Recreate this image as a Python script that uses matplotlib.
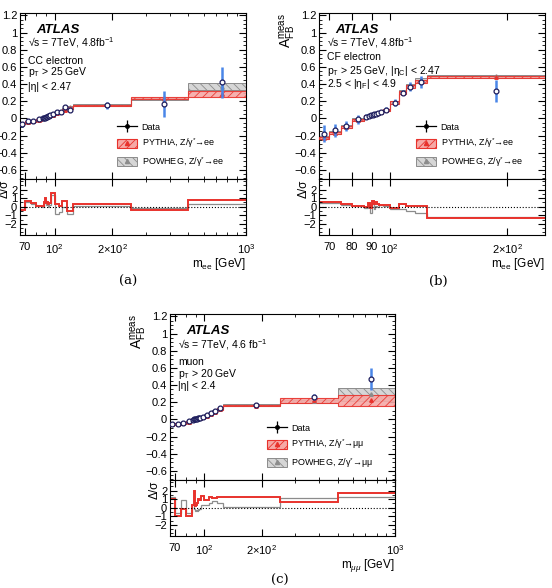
import numpy as np
import matplotlib
matplotlib.use('Agg')
import matplotlib.pyplot as plt
from matplotlib.patches import Patch
from matplotlib.lines import Line2D
from matplotlib.ticker import MultipleLocator, AutoMinorLocator, NullFormatter

plt.rcParams['font.family'] = ['Liberation Sans', 'DejaVu Sans']
plt.rcParams['mathtext.fontset'] = 'custom'
plt.rcParams['mathtext.rm'] = 'Liberation Sans'
plt.rcParams['mathtext.it'] = 'Liberation Sans:italic'
plt.rcParams['hatch.linewidth'] = 0.6

# mass bin edges [GeV]
edges_ll = np.array([66, 70, 75, 80, 86, 88, 89, 90, 91, 92, 93, 94, 96, 100, 106, 110, 116, 125, 250, 500, 1000])
edges_cf = edges_ll[:19]

# (a) CC electrons
cc_data = np.array([-0.07, -0.03, -0.03, -0.01, 0.00, 0.01, 0.01, 0.02, 0.02, 0.03, 0.03, 0.04, 0.05, 0.07, 0.08, 0.13, 0.10, 0.15, 0.17, 0.42])
cc_err = np.array([0.03, 0.02, 0.02, 0.015, 0.01, 0.01, 0.01, 0.01, 0.01, 0.01, 0.01, 0.01, 0.015, 0.02, 0.02, 0.02, 0.03, 0.04, 0.15, 0.18])
cc_py = np.array([-0.06, -0.04, -0.03, -0.015, 0.00, 0.005, 0.01, 0.015, 0.02, 0.025, 0.03, 0.035, 0.04, 0.065, 0.075, 0.10, 0.12, 0.15, 0.24, 0.28])
cc_py_err = np.array([0.01] * 17 + [0.01, 0.012, 0.035])
cc_pw = np.array([-0.06, -0.04, -0.03, -0.015, 0.00, 0.005, 0.01, 0.015, 0.02, 0.025, 0.03, 0.035, 0.04, 0.07, 0.08, 0.11, 0.13, 0.155, 0.225, 0.37])
cc_pw_err = np.array([0.01] * 17 + [0.01, 0.015, 0.04])
cc_r_py = np.array([-0.4, 0.7, 0.4, 0.1, 0.1, 0.6, 1.0, 0.4, 0.5, 0.3, 0.3, 0.4, 1.6, 0.3, 0.1, 0.7, -0.5, 0.3, -0.35, 0.8])
cc_r_pw = np.array([-0.3, 0.5, 0.3, 0.1, 0.0, 0.4, 0.8, 0.2, 0.3, 0.1, 0.0, 0.2, 1.4, -0.8, -0.6, 0.0, -0.9, 0.1, -0.2, 0.3])

# (b) CF electrons
cf_data = np.array([-0.18, -0.14, -0.09, -0.01, 0.02, 0.03, 0.04, 0.04, 0.05, 0.05, 0.06, 0.07, 0.10, 0.18, 0.30, 0.37, 0.42, 0.32])
cf_err = np.array([0.10, 0.08, 0.06, 0.05, 0.03, 0.02, 0.02, 0.02, 0.02, 0.02, 0.02, 0.02, 0.03, 0.04, 0.03, 0.05, 0.07, 0.13])
cf_py = np.array([-0.23, -0.17, -0.10, -0.02, 0.02, 0.03, 0.04, 0.045, 0.05, 0.055, 0.06, 0.075, 0.10, 0.185, 0.30, 0.37, 0.43, 0.48])
cf_py_err = np.array([0.015] * 18)
cf_pw = np.array([-0.22, -0.165, -0.095, -0.015, 0.02, 0.03, 0.04, 0.045, 0.05, 0.055, 0.06, 0.075, 0.10, 0.19, 0.31, 0.385, 0.45, 0.49])
cf_pw_err = np.array([0.015] * 17 + [0.02])
cf_r_py = np.array([0.5, 0.5, 0.3, 0.1, 0.0, 0.4, -0.2, 0.7, 0.3, 0.5, 0.3, 0.25, 0.25, -0.2, 0.35, 0.1, 0.1, -1.3])
cf_r_pw = np.array([0.45, 0.4, 0.25, 0.05, -0.1, 0.3, -0.7, 0.4, -0.3, 0.1, 0.0, 0.2, 0.1, -0.3, -0.3, -0.5, -0.7, -1.2])

# (c) muons
mu_data = np.array([-0.05, -0.05, -0.04, -0.02, -0.01, 0.00, 0.01, 0.01, 0.01, 0.02, 0.02, 0.02, 0.03, 0.05, 0.07, 0.10, 0.13, 0.17, 0.26, 0.47])
mu_err = np.array([0.01] * 17 + [0.01, 0.035, 0.13])
mu_py = np.array([-0.055, -0.05, -0.04, -0.025, -0.01, 0.0, 0.005, 0.01, 0.01, 0.015, 0.02, 0.02, 0.03, 0.045, 0.065, 0.09, 0.12, 0.16, 0.22, 0.22])
mu_py_err = np.array([0.01] * 18 + [0.025, 0.06])
mu_pw = np.array([-0.055, -0.05, -0.04, -0.025, -0.01, 0.0, 0.005, 0.01, 0.01, 0.015, 0.02, 0.02, 0.03, 0.05, 0.07, 0.10, 0.125, 0.165, 0.21, 0.29])
mu_pw_err = np.array([0.01] * 18 + [0.02, 0.075])
mu_r_py = np.array([1.0, -1.0, -0.2, -1.0, 0.3, 1.9, 0.2, 0.3, 0.5, 0.9, 1.0, 0.9, 1.4, 0.9, 1.3, 1.1, 1.2, 1.25, 0.65, 1.75])
mu_r_pw = np.array([1.3, -0.6, 0.9, -0.6, 0.4, -0.2, -0.4, -0.3, -0.4, -0.2, -0.3, -0.2, 0.3, 0.3, 0.6, 0.8, 0.5, 0.1, 1.1, 1.2])

RED = '#e8322c'
RED_FILL = '#f6a9a6'
GREY = '#8c8c8c'
GREY_FILL = '#d6d6d6'


def panel(rect, rh, edges, data, err, py, pye, pw, pwe, rpy, rpw, xlim, xt, xtl,
          texts, lep, xlabel):
    l, b, w, h = rect
    ax = fig.add_axes([l, b, w, h])
    rax = fig.add_axes([l, b - rh, w, rh], sharex=ax)
    cen = 0.5 * (edges[1:] + edges[:-1])

    ax.stairs(pw + pwe, edges, baseline=pw - pwe, fill=True, facecolor=GREY_FILL,
              edgecolor=GREY, hatch='\\\\\\\\', lw=0.7, zorder=2)
    ax.stairs(py + pye, edges, baseline=py - pye, fill=True, facecolor=RED_FILL,
              edgecolor=RED, hatch='////', lw=0.8, alpha=0.9, zorder=3)
    ax.plot(cen, pw, '^', color=GREY, ms=2.5, zorder=3)
    ax.plot(cen, py, '^', color=RED, ms=2.5, zorder=4)
    ax.errorbar(cen, data, yerr=err, fmt='o', ms=3.5, mfc='white', mec='#1c1c5c',
                mew=0.9, ecolor='#4a86e8', elinewidth=1.8, capsize=0, zorder=5)

    ax.set_xscale('log')
    ax.set_xlim(*xlim)
    ax.set_ylim(-0.71, 1.23)
    ax.yaxis.set_minor_locator(AutoMinorLocator(4))
    ax.set_yticks(np.arange(-0.6, 1.21, 0.2))
    ax.set_yticklabels(['−0.6', '−0.4', '−0.2', '0', '0.2', '0.4', '0.6', '0.8', '1', '1.2'])
    ax.set_ylabel(r'A$_{\mathrm{FB}}^{\mathrm{meas}}$', loc='top', fontsize=10)
    ax.yaxis.set_label_coords(-0.095, 1.0)
    plt.setp(ax.get_xticklabels(which='both'), visible=False)

    ax.text(0.07, 0.895, 'ATLAS', transform=ax.transAxes, fontsize=9.5,
            fontweight='bold', fontstyle='italic', va='center')
    for (ty, s) in texts:
        ax.text(0.035, ty, s, transform=ax.transAxes, fontsize=7.5, va='center')

    hd = (Line2D([], [], color='k', marker='o', ms=2.5, lw=0.9),
          Line2D([], [], color='k', marker='|', ms=8, ls='none', mew=0.9))
    hp = (Patch(facecolor=RED_FILL, edgecolor=RED, hatch='////', lw=0.8),
          Line2D([], [], color=RED, marker='^', ms=3, ls='none'))
    hw = (Patch(facecolor=GREY_FILL, edgecolor=GREY, hatch='\\\\\\\\', lw=0.7),
          Line2D([], [], color=GREY, marker='^', ms=3, ls='none'))
    ax.legend([hd, hp, hw], ['Data', lep[0], lep[1]], loc='upper left',
              bbox_to_anchor=(0.43, 0.34), frameon=False, fontsize=6.5,
              borderpad=0, borderaxespad=0, handlelength=2.2, handleheight=1.15,
              labelspacing=0.5, handletextpad=0.5)

    rax.stairs(rpw, edges, baseline=None, color=GREY, lw=0.9)
    rax.stairs(rpy, edges, baseline=None, color=RED, lw=1.4)
    rax.axhline(0, color='k', ls=':', lw=0.8)
    rax.set_ylim(-3.3, 3.2)
    rax.set_yticks([-2, -1, 0, 1, 2])
    rax.set_yticklabels(['−2', '−1', '0', '1', '2'])
    rax.yaxis.set_minor_locator(MultipleLocator(0.5))
    rax.set_ylabel('Δ/σ', loc='top', fontsize=8.5)
    rax.yaxis.set_label_coords(-0.04, 1.0)
    rax.set_xticks(xt)
    rax.set_xticklabels(xtl)
    rax.xaxis.set_minor_formatter(NullFormatter())
    rax.set_xlabel(xlabel, loc='right', fontsize=8.5, labelpad=0)

    for a in (ax, rax):
        a.tick_params(which='both', direction='in', top=True, right=True, labelsize=8, pad=2)
        a.tick_params(which='major', length=5)
        a.tick_params(which='minor', length=2.5)
        for sp in a.spines.values():
            sp.set_linewidth(0.8)
    rax.tick_params(axis='x', which='major', pad=5)
    return ax, rax


fig = plt.figure(figsize=(5.52, 5.88), dpi=100)

RH = 0.0947
MH = 0.2833

panel([0.0362, 0.6003 + RH, 0.4094, MH], RH, edges_ll, cc_data, cc_err, cc_py, cc_py_err,
      cc_pw, cc_pw_err, cc_r_py, cc_r_pw, (66, 1000), [70, 100, 200, 1000],
      ['70', r'10$^{2}$', r'2$\times$10$^{2}$', r'10$^{3}$'],
      [(0.82, '√s = 7TeV, 4.8fb$^{-1}$'), (0.71, 'CC electron'),
       (0.644, r'p$_{\mathrm{T}}$ > 25 GeV'), (0.554, '|η| < 2.47')],
      ('PYTHIA, Z/γ$^{*}$→ee', 'POWHEG, Z/γ$^{*}$→ee'), r'm$_{\mathrm{ee}}$ [GeV]')

panel([0.578, 0.6003 + RH, 0.4094, MH], RH, edges_cf, cf_data, cf_err, cf_py, cf_py_err,
      cf_pw, cf_pw_err, cf_r_py, cf_r_pw, (66, 250), [70, 80, 90, 100, 200],
      ['70', '80', '90', r'10$^{2}$', r'2$\times$10$^{2}$'],
      [(0.82, '√s = 7TeV, 4.8fb$^{-1}$'), (0.733, 'CF electron'),
       (0.65, r'p$_{\mathrm{T}}$ > 25 GeV, |η$_{\mathrm{C}}$| < 2.47'),
       (0.572, r'2.5 < |η$_{\mathrm{F}}$| < 4.9')],
      ('PYTHIA, Z/γ$^{*}$→ee', 'POWHEG, Z/γ$^{*}$→ee'), r'm$_{\mathrm{ee}}$ [GeV]')

panel([0.308, 0.0884 + RH, 0.4076, MH], RH, edges_ll, mu_data, mu_err, mu_py, mu_py_err,
      mu_pw, mu_pw_err, mu_r_py, mu_r_pw, (66, 1000), [70, 100, 200, 1000],
      ['70', r'10$^{2}$', r'2$\times$10$^{2}$', r'10$^{3}$'],
      [(0.813, '√s = 7TeV, 4.6 fb$^{-1}$'), (0.71, 'muon'),
       (0.638, r'p$_{\mathrm{T}}$ > 20 GeV'), (0.565, '|η| < 2.4')],
      ('PYTHIA, Z/γ$^{*}$→μμ', 'POWHEG, Z/γ$^{*}$→μμ'), r'm$_{\mu\mu}$ [GeV]')

for (x, y, s) in [(128, 281, '(a)'), (438, 281, '(b)'), (280, 580, '(c)')]:
    fig.text(x / 552, 1 - y / 588, s, ha='center', va='center', fontsize=9.5,
             family='DejaVu Serif')

fig.savefig('out.png', dpi=100)
